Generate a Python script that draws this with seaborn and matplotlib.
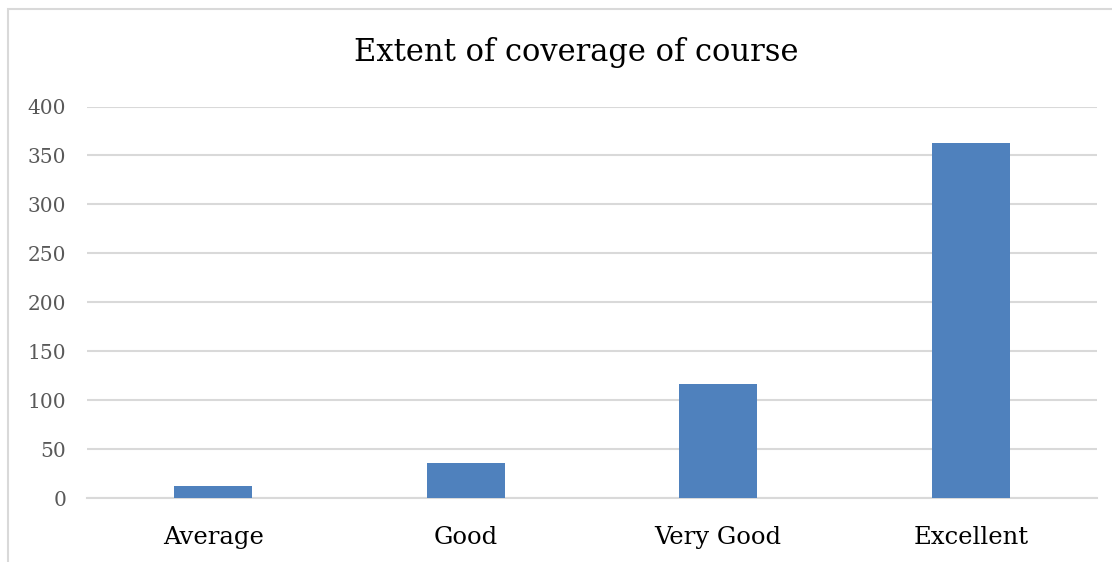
import matplotlib
matplotlib.use("Agg")
import matplotlib.pyplot as plt
import seaborn as sns
import pandas as pd
from matplotlib.patches import Rectangle

categories = ["Average", "Good", "Very Good", "Excellent"]
values = [12, 36, 116, 363]
yticks = [0, 50, 100, 150, 200, 250, 300, 350, 400]
title = "Extent of coverage of course"

sns.set_theme(style="white")
plt.rcParams['font.family'] = ['DejaVu Serif']

df = pd.DataFrame({"cat": categories, "val": values})

fig = plt.figure(figsize=(11.12, 5.62), dpi=100)
ax = fig.add_axes([87/1112, 1-498/562, 1010/1112, (498-106.5)/562])

sns.barplot(data=df, x="cat", y="val", color="#4F81BD", saturation=1, width=0.31,
            ax=ax, zorder=3, edgecolor="none")

ax.set_ylim(0, 400)
ax.set_xlim(-0.5, 3.5)
ax.set_yticks(yticks)
ax.yaxis.grid(True, color="#d9d9d9", linewidth=1.5, zorder=0)
ax.xaxis.grid(False)
ax.set_axisbelow(True)
for s in ["top", "right", "left"]:
    ax.spines[s].set_visible(False)
ax.spines["bottom"].set_color("#d9d9d9")
ax.spines["bottom"].set_linewidth(1.5)
ax.set_xlabel("")
ax.set_ylabel("")
ax.tick_params(axis="y", labelsize=14.5, labelcolor="#595959", length=0, pad=15)
ax.tick_params(axis="x", labelsize=17.5, labelcolor="black", length=0, pad=20.5)

fig.text(576/1112, 1-52/562, title, ha="center", va="center", fontsize=22, color="black")

fig.add_artist(Rectangle((8/1112, -0.05), 1.1, 1-9/562+0.05, transform=fig.transFigure,
                         fill=False, edgecolor="#d9d9d9", linewidth=1.5))

fig.savefig("out.png", dpi=100)
